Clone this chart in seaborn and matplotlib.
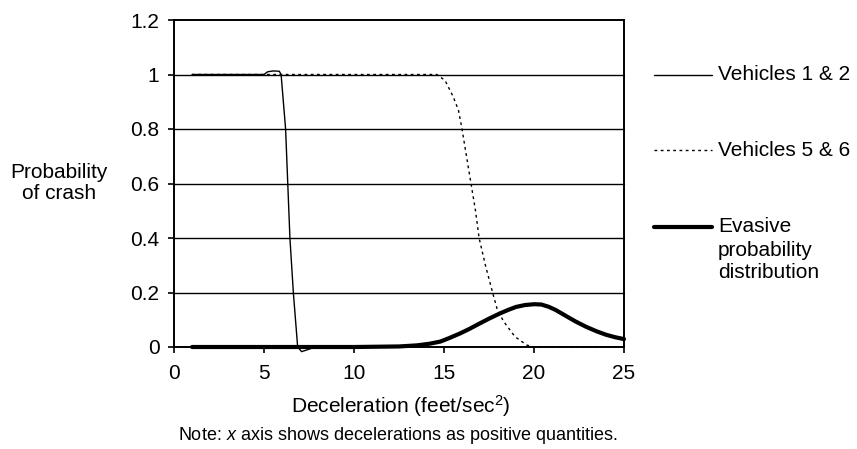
import matplotlib
matplotlib.use("Agg")
import matplotlib.pyplot as plt
from matplotlib.lines import Line2D
import seaborn as sns
import pandas as pd

# ---- data ----
v12_x = [1, 3, 5.0, 5.2, 5.5, 5.85, 5.95, 6.2, 6.32, 6.44, 6.63, 6.87, 7.09, 7.5, 7.85, 8.5]
v12_y = [1, 1, 1.0, 1.01, 1.013, 1.012, 1.0, 0.8, 0.6, 0.4, 0.2, 0.0, -0.017, -0.008, 0.0, 0.0]

v56_x = [1, 5, 10, 14.6, 15.06, 15.5, 15.8, 16.0, 16.25, 16.5, 16.75, 16.95, 17.3, 17.7,
         17.95, 18.3, 18.94, 19.6, 20, 22, 25]
v56_y = [1, 1, 1, 1, 0.978, 0.92, 0.87, 0.8, 0.7, 0.6, 0.5, 0.4, 0.3, 0.2,
         0.14, 0.095, 0.038, 0.007, 0, 0, 0]

ev_x = [1, 5, 10, 12.5, 13.5, 14.2, 14.8, 15.3, 15.9, 16.4, 17.0, 17.5, 18.1, 18.6, 19.0,
        19.5, 20.0, 20.4, 20.8, 21.2, 21.8, 22.3, 22.9, 23.5, 24.0, 24.5, 25]
ev_y = [0, 0, 0, 0.002, 0.006, 0.012, 0.02, 0.033, 0.05, 0.066, 0.087, 0.104, 0.123, 0.137, 0.147,
        0.154, 0.157, 0.156, 0.148, 0.136, 0.113, 0.094, 0.074, 0.057, 0.045, 0.036, 0.029]

y_ticks = [0, 0.2, 0.4, 0.6, 0.8, 1, 1.2]
y_tick_labels = ["0", "0.2", "0.4", "0.6", "0.8", "1", "1.2"]
x_ticks = [0, 5, 10, 15, 20, 25]
series_names = ["Vehicles 1 & 2", "Vehicles 5 & 6", "Evasive\nprobability\ndistribution"]

# ---- style ----
sns.set_style("white")
plt.rcParams["font.family"] = ["Liberation Sans", "DejaVu Sans"]
plt.rcParams["mathtext.fontset"] = "custom"
plt.rcParams["mathtext.rm"] = "Liberation Sans"
plt.rcParams["mathtext.it"] = "Liberation Sans:italic"
for k in ["text.color", "xtick.color", "ytick.color", "axes.labelcolor", "axes.edgecolor"]:
    plt.rcParams[k] = "black"

FS = 15
W, H = 857, 449
fig = plt.figure(figsize=(W / 100, H / 100), dpi=100)
ax = fig.add_axes([174 / W, 1 - 347 / H, (624 - 174) / W, (347 - 20) / H])

d12 = pd.DataFrame({"x": v12_x, "y": v12_y})
d56 = pd.DataFrame({"x": v56_x, "y": v56_y})
dev = pd.DataFrame({"x": ev_x, "y": ev_y})

for yv in y_ticks[1:-1]:
    ax.axhline(yv, color="black", lw=1.0, zorder=1)

sns.lineplot(data=dev, x="x", y="y", ax=ax, color="black", lw=3.0, sort=False, zorder=3)
sns.lineplot(data=d56, x="x", y="y", ax=ax, color="black", lw=1.0, ls=(0, (2, 2.5)), sort=False, zorder=4)
sns.lineplot(data=d12, x="x", y="y", ax=ax, color="black", lw=1.0, sort=False, zorder=5)
for ln in ax.lines:
    ln.set_clip_on(False)
    ln.set_solid_joinstyle("round")

ax.set_xlim(0, 25)
ax.set_ylim(0, 1.2)
ax.set_yticks(y_ticks)
ax.set_yticklabels(y_tick_labels)
ax.set_xticks(x_ticks)
ax.tick_params(axis="both", direction="out", length=4.5, width=1.2, color="black",
               labelcolor="black", labelsize=FS, pad=6, left=True, bottom=True)
ax.tick_params(axis="x", pad=8)
for s in ax.spines.values():
    s.set_visible(True)
    s.set_color("black")
    s.set_linewidth(1.4)
ax.set_xlabel("")
ax.set_ylabel("")

# axis titles
fig.text(401 / W, 1 - 406 / H, "Deceleration (feet/sec$^{2}$)", ha="center", va="center", fontsize=FS)
fig.text(398 / W, 1 - 436 / H, "Note: $\\it{x}$ axis shows decelerations as positive quantities.",
         ha="center", va="center", fontsize=13)
fig.text(59 / W, 1 - 183 / H, "Probability\nof crash", ha="center", va="center",
         fontsize=FS, multialignment="center", linespacing=1.1)

# legend (custom, to the right)
def px(x, y):
    return x / W, 1 - y / H

leg_y = [75, 150, 227]
styles = [dict(lw=1.0, ls="-"), dict(lw=1.0, ls=(0, (2, 2.5))), dict(lw=3.0, ls="-")]
for yy, st, name in zip(leg_y, styles, series_names):
    (x0, y0), (x1, y1) = px(654, yy), px(712, yy)
    fig.add_artist(Line2D([x0, x1], [y0, y1], color="black", transform=fig.transFigure, **st))
    for i, line in enumerate(name.split("\n")):
        tx, ty = px(718, yy + 23 * i)
        fig.text(tx, ty, line, ha="left", va="center", fontsize=FS)

fig.savefig("out.png", dpi=100)
